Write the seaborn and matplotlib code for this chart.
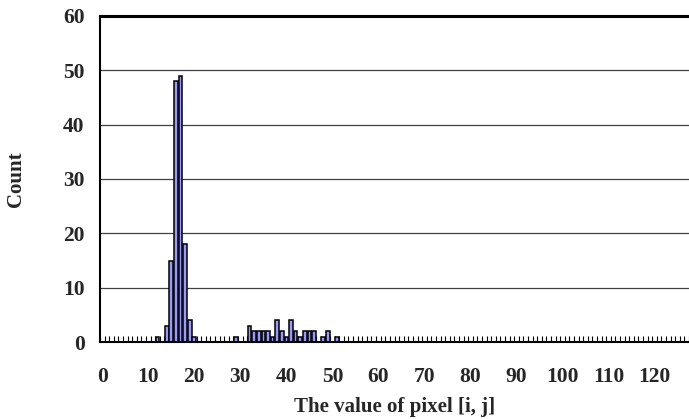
import numpy as np
import pandas as pd
import matplotlib
matplotlib.use('Agg')
import matplotlib.pyplot as plt
import seaborn as sns

# pixel value bins 0..127, counts (only non-zero bins listed)
pixel_bins = list(range(128))
hit_bins = [12, 14, 15, 16, 17, 18, 19, 20, 29, 32, 33, 34, 35, 36, 37, 38, 39,
            40, 41, 42, 43, 44, 45, 46, 48, 49, 51]
hit_counts = [1, 3, 15, 48, 49, 18, 4, 1, 1, 3, 2, 2, 2, 2, 1, 4, 2,
              1, 4, 2, 1, 2, 2, 2, 1, 2, 1]
x_tick_values = [0, 10, 20, 30, 40, 50, 60, 70, 80, 90, 100, 110, 120]
y_tick_values = [0, 10, 20, 30, 40, 50, 60]

counts = np.zeros(len(pixel_bins))
counts[hit_bins] = hit_counts
df = pd.DataFrame({'pixel': pixel_bins, 'count': counts})

sns.set_style('white')
plt.rcParams['font.family'] = ['Liberation Serif', 'DejaVu Serif']
plt.rcParams['font.weight'] = 'bold'

fig = plt.figure(figsize=(6.89, 4.19), dpi=100)
ax = fig.add_axes([100 / 689, 77 / 419, 589 / 689, 326 / 419])

ax.set_axisbelow(True)
ax.yaxis.grid(True, color='#404040', linewidth=0.9)
sns.barplot(data=df, x='pixel', y='count', color='#9999ff', saturation=1,
            edgecolor='black', linewidth=1.1, width=0.8, ax=ax)

ax.set_xlim(-0.5, 127.5)
ax.set_ylim(0, 60)
ax.set_xticks(x_tick_values)
ax.set_xticklabels([str(v) for v in x_tick_values])
ax.set_xticks(np.arange(-0.5, 128, 1), minor=True)
ax.set_yticks(y_tick_values)
ax.tick_params(axis='x', which='major', length=0, pad=18, labelsize=15.5)
ax.tick_params(axis='x', which='minor', direction='in', length=4, width=0.8,
               color='black', bottom=True)
ax.tick_params(axis='y', length=0, pad=11, labelsize=15.5)

for side in ['left', 'bottom']:
    ax.spines[side].set_color('black')
    ax.spines[side].set_linewidth(1.5)
ax.spines['top'].set_color('black')
ax.spines['top'].set_linewidth(2.2)
ax.spines['right'].set_visible(False)

ax.set_xlabel('The value of pixel [i, j]', fontsize=15, fontweight='bold')
ax.set_ylabel('Count', fontsize=15, fontweight='bold')
ax.xaxis.set_label_coords(0.5, -0.168)
ax.yaxis.set_label_coords(-0.126, 0.5)

fig.savefig('out.png', dpi=100)
